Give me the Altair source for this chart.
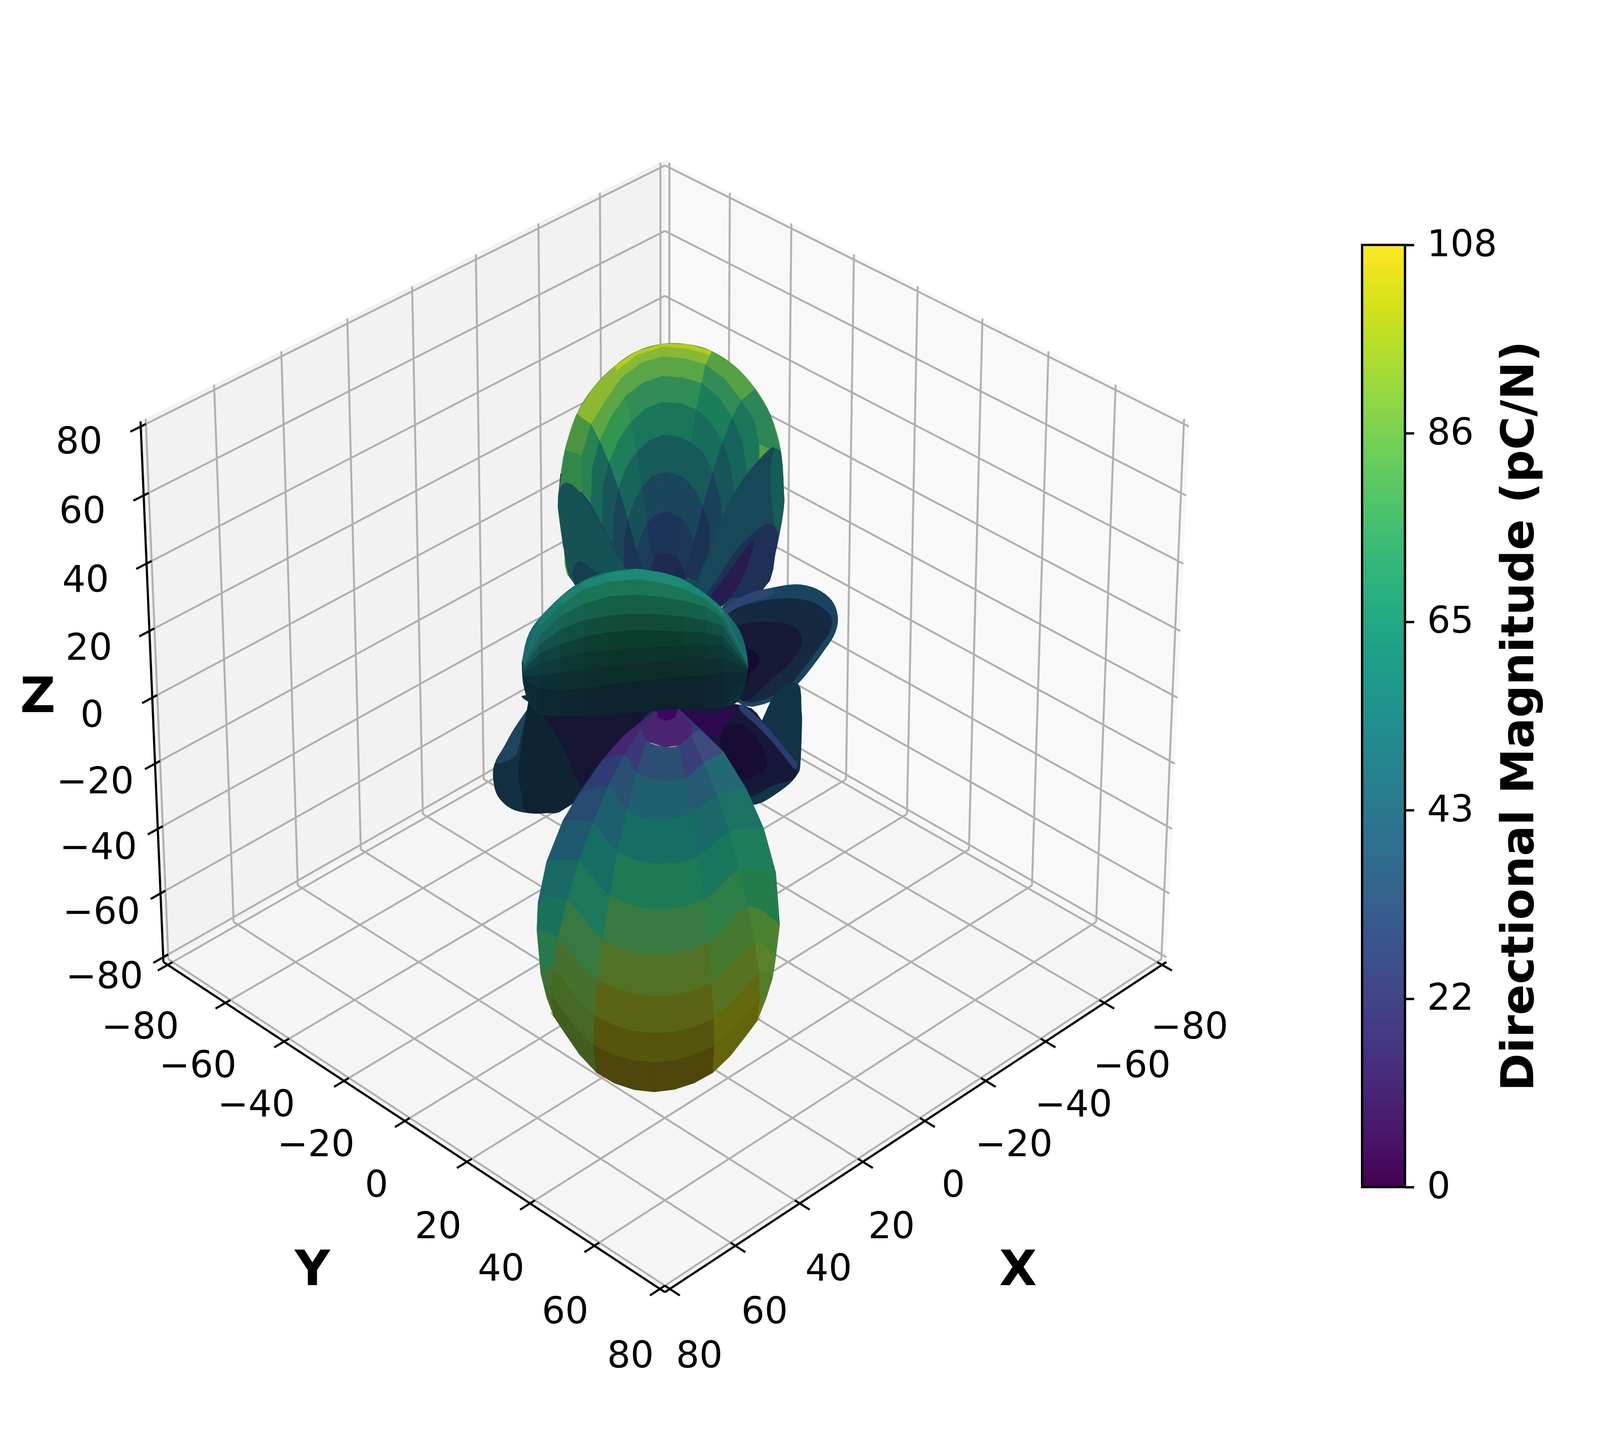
import numpy as np
import pandas as pd
import altair as alt

alt.data_transformers.disable_max_rows()

# The browser viewport is 4096 wide and 3707 tall: the chart fills it, and every
# position read from the 4701x3707 reference goes through the x and y scales.
W, H = 4080, 3691
KX = 4701 / 4096
FONT = "DejaVu Sans"

# ---------- axis values ----------
tick_values = [-80, -60, -40, -20, 0, 20, 40, 60, 80]
tick_text = ["\u221280", "\u221260", "\u221240", "\u221220", "0", "20", "40", "60", "80"]
cbar_ticks = [0, 21.6, 43.2, 64.8, 86.4, 108]
L, LZ = 81.5, 81.5

# ---------- 3-D camera (elev 30, azim 45, box aspect 4:4:3) ----------
el, az = np.radians(30), np.radians(45)
asp = np.array([4.0, 4.0, 3.0])
asp = asp * 1.8294640721620434 * 25 / 24 / np.linalg.norm(asp)
R0 = asp / 2
w_ = np.array([np.cos(el) * np.cos(az), np.cos(el) * np.sin(az), np.sin(el)])
eye = R0 + 10 * w_
u_ = np.cross([0, 0, 1.0], w_)
u_ /= np.linalg.norm(u_)
v_ = np.cross(w_, u_)


def cam(x, y, z):
    p = np.array([(x + L) / (2 * L), (y + L) / (2 * L), (z + LZ) / (2 * LZ)]) * asp - eye
    d = -w_.dot(p)
    return u_.dot(p) / d, v_.dot(p) / d


fit_pts = [((L, L, -LZ), (1954, 3312)), ((L, -L, -LZ), (480, 2460)), ((-L, L, -LZ), (3427, 2460)),
           ((L, -L, LZ), (413, 1079)), ((-L, L, LZ), (3494, 1079)), ((-L, -L, LZ), (1953, 412))]
A, b = [], []
for p3, p2 in fit_pts:
    cx, cy = cam(*p3)
    A += [[cx, 1, 0], [-cy, 0, 1]]
    b += [p2[0], p2[1]]
s_, ox, oy = np.linalg.lstsq(np.array(A), np.array(b, float), rcond=None)[0]


def pr(x, y, z):
    cx, cy = cam(x, y, z)
    return s_ * cx + ox, oy - s_ * cy


# ---------- helpers for polygons ----------
polys = []


def hexc(rgb):
    return "#%02x%02x%02x" % tuple(int(round(min(255, max(0, v)))) for v in rgb)


def Z1(p):
    return (1350 + p[0] / 1.3067, 800 + p[1] / 1.3067)


def Z2(p):
    return (1450 + p[0] / 1.568, 1750 + p[1] / 1.4255)


def add(pts, rgb, frame=None):
    polys.append(([frame(p) if frame else p for p in pts], hexc(rgb)))


def catmull(a, b_, c, d, n):
    out = []
    for k in range(n):
        t = k / n
        out.append(0.5 * (2 * b_ + (c - a) * t + (2 * a - 5 * b_ + 4 * c - d) * t ** 2 + (3 * b_ - a - 3 * c + d) * t ** 3))
    return out


def smooth(ring, n=3):
    r = np.array(ring, float)
    r2 = np.vstack([2 * r[0] - r[1], r, 2 * r[-1] - r[-2]])
    out = []
    for i in range(1, len(r2) - 2):
        out += catmull(r2[i - 1], r2[i], r2[i + 1], r2[i + 2], n)
    out.append(r[-1])
    return [tuple(p) for p in out]


def adds(pts, rgb, frame=None, n=4):
    r = np.array(pts, float)
    m = len(r)
    out = []
    for i in range(m):
        out += catmull(r[(i - 1) % m], r[i], r[(i + 1) % m], r[(i + 2) % m], n)
    add([tuple(p) for p in out], rgb, frame)


# ---------- top lobe ----------
adds([(450, 340), (515, 250), (595, 180), (680, 130), (780, 105), (880, 107), (970, 130), (1060, 182), (1135, 255), (1195, 345), (1235, 470), (1245, 630), (1235, 700), (1215, 790), (1165, 925), (930, 1000), (700, 1000), (440, 905), (400, 780), (380, 650), (385, 570), (405, 460)], (85, 160, 65), Z1)
add([(388, 540), (560, 540), (1000, 540), (1240, 540), (1247, 630), (1237, 700), (1217, 790), (1167, 925), (930, 1000), (700, 1000), (440, 907), (398, 780), (378, 650)], (25, 70, 88), Z1)
top_arches = [
    [(450, 340), (515, 250), (595, 180), (680, 130), (780, 105), (880, 107), (970, 130), (1060, 182), (1135, 255)],
    [(505, 375), (565, 290), (620, 220), (700, 168), (780, 148), (870, 155), (945, 175), (1020, 225), (1082, 295)],
    [(538, 430), (585, 345), (638, 280), (705, 235), (780, 213), (855, 218), (930, 237), (995, 285), (1048, 352)],
    [(574, 503), (612, 425), (660, 365), (715, 322), (782, 300), (850, 305), (910, 325), (965, 368), (1010, 435)],
    [(611, 592), (640, 520), (682, 465), (730, 428), (783, 410), (835, 415), (890, 435), (935, 470), (972, 535)],
    [(647, 695), (672, 630), (703, 583), (740, 550), (785, 535), (830, 540), (870, 560), (905, 595), (935, 650)],
    [(680, 800), (698, 745), (722, 705), (750, 680), (787, 668), (815, 672), (852, 690), (880, 725), (900, 770)],
    [(715, 900), (725, 860), (745, 830), (760, 810), (790, 805), (810, 808), (835, 822), (855, 850), (868, 880)],
    [(740, 980), (750, 980), (760, 980), (775, 980), (790, 980), (810, 980), (835, 980), (855, 980), (868, 980)],
]
top_colors = [
    [(140, 185, 48), (135, 185, 55), (85, 162, 68)],
    [(92, 166, 70), (90, 165, 70), (50, 140, 85)],
    [(50, 150, 80), (50, 140, 85), (28, 125, 90)],
    [(30, 125, 90), (25, 118, 90), (24, 108, 90)],
    [(22, 100, 90), (22, 90, 90), (23, 90, 90)],
    [(24, 80, 90), (25, 70, 90), (25, 70, 90)],
    [(26, 62, 90), (28, 52, 88), (28, 55, 88)],
    [(28, 50, 85), (32, 42, 78), (30, 40, 80)],
]
top_groups = [0, 0, 1, 1, 1, 1, 2, 2]
for i in range(8):
    for j in range(8):
        a, b_ = top_arches[i], top_arches[i + 1]
        add([a[j], a[j + 1], b_[j + 1], b_[j]], top_colors[i][top_groups[j]], Z1)

add([(595, 180), (680, 130), (780, 105), (880, 107), (968, 130), (960, 142), (880, 120), (780, 114), (680, 142), (606, 192)], (182, 204, 28), Z1)

# outer cells, right
add([(1135, 255), (1082, 295), (1130, 360), (1150, 440), (1235, 470), (1195, 345)], (45, 135, 85), Z1)
add([(1082, 295), (1130, 360), (1150, 440), (1150, 520), (1105, 545), (1085, 430), (1048, 352)], (28, 118, 90), Z1)
add([(1048, 352), (1085, 430), (1105, 545), (1057, 610), (1040, 515), (1010, 435)], (23, 100, 90), Z1)
add([(1010, 435), (1040, 515), (1057, 610), (1008, 700), (1000, 620), (972, 535)], (23, 85, 90), Z1)
add([(972, 535), (1000, 620), (1008, 700), (958, 800), (960, 720), (935, 650)], (25, 65, 90), Z1)
add([(935, 650), (960, 720), (958, 800), (915, 900), (868, 880), (900, 770)], (28, 50, 85), Z1)
# outer cells, left
add([(450, 340), (505, 375), (470, 480), (405, 460)], (75, 150, 65), Z1)
add([(505, 375), (538, 430), (510, 520), (505, 640), (470, 600), (470, 480)], (40, 130, 82), Z1)
add([(405, 460), (470, 480), (470, 600), (385, 590)], (50, 135, 75), Z1)
add([(538, 430), (510, 520), (505, 640), (548, 710), (550, 590), (574, 503)], (25, 105, 90), Z1)
add([(574, 503), (550, 590), (548, 710), (590, 775), (592, 670), (611, 592)], (24, 85, 90), Z1)
add([(611, 592), (592, 670), (590, 775), (632, 850), (632, 770), (647, 695)], (25, 68, 90), Z1)
add([(647, 695), (632, 770), (632, 850), (680, 880), (715, 900), (680, 800)], (28, 52, 85), Z1)
# blades seen through the lobe
adds([(380, 650), (385, 590), (410, 570), (450, 590), (505, 660), (560, 740), (600, 810), (640, 870), (600, 920), (440, 905), (400, 780)], (22, 82, 85), Z1)
adds([(1190, 458), (1215, 458), (1235, 480), (1245, 630), (1235, 700), (1215, 790), (1165, 925), (930, 960), (915, 900), (960, 800), (1000, 700), (1040, 630), (1100, 545)], (22, 72, 88), Z1)
adds([(1205, 465), (1235, 480), (1245, 630), (1235, 700), (1215, 730), (1195, 580)], (22, 92, 88), Z1)
adds([(1170, 712), (1200, 710), (1220, 735), (1215, 790), (1165, 925), (950, 960), (985, 900), (1060, 800), (1120, 745)], (30, 48, 85), Z1)
adds([(1130, 760), (1060, 840), (990, 920), (960, 960), (1010, 980), (1090, 880)], (38, 28, 80), Z1)
adds([(440, 905), (437, 855), (465, 832), (510, 860), (545, 885), (460, 910)], (22, 62, 80), Z1)

# ---------- side lobes ----------
adds([(1000, 1000), (1100, 945), (1180, 925), (1290, 910), (1370, 925), (1430, 965), (1452, 1020), (1440, 1075), (1400, 1130), (1340, 1200), (1300, 1240), (1240, 1285), (1090, 1315), (1000, 1200)], (25, 68, 95), Z1)
adds([(1010, 995), (1100, 945), (1190, 925), (1200, 945), (1100, 975), (1035, 1010)], (45, 68, 115), Z1)
adds([(1030, 1010), (1200, 960), (1340, 965), (1420, 1010), (1425, 1060), (1380, 1120), (1320, 1190), (1240, 1265), (1090, 1300), (1040, 1150)], (21, 42, 65), Z1)
adds([(1060, 1055), (1180, 1035), (1280, 1050), (1315, 1100), (1280, 1160), (1200, 1225), (1085, 1300), (1060, 1150)], (22, 26, 55), Z1)
adds([(1085, 1130), (1130, 1135), (1152, 1165), (1120, 1205), (1070, 1280)], (25, 10, 52), Z1)

adds([(1280, 60), (1400, 0), (1418, 100), (1420, 150), (1413, 290), (1400, 330), (1340, 380), (1210, 440), (1130, 400)], (18, 52, 70), Z2)
adds([(860, 90), (1150, 80), (1250, 150), (1340, 235), (1395, 290), (1385, 345), (1290, 370), (1130, 420), (1000, 300)], (22, 24, 55), Z2)
adds([(1150, 80), (1250, 150), (1340, 235), (1395, 290), (1385, 310), (1320, 245), (1230, 165), (1140, 100)], (40, 62, 115), Z2)
adds([(1050, 180), (1150, 150), (1230, 220), (1260, 290), (1210, 335), (1080, 335)], (25, 12, 50), Z2)
add([(850, 90), (1000, 110), (1120, 90), (1030, 200), (970, 180)], (45, 10, 80), Z2)

adds([(165, 40), (170, 80), (100, 160), (50, 230), (5, 295), (0, 350), (20, 410), (80, 455), (160, 472), (240, 472), (330, 455), (500, 300), (760, 95), (700, 40)], (18, 48, 65), Z2)
adds([(170, 80), (100, 160), (50, 230), (10, 290), (90, 270), (115, 230), (150, 110)], (30, 68, 95), Z2)
adds([(165, 50), (130, 230), (115, 320), (130, 400), (160, 470), (330, 455), (420, 380), (370, 330), (350, 280), (300, 200), (180, 50)], (14, 36, 50), Z2)
add([(180, 50), (300, 200), (350, 280), (370, 330), (420, 390), (500, 300), (720, 100), (700, 50)], (22, 22, 52), Z2)

# ---------- bottom lobe ----------
bot_rings = [
    [(600, 190), (680, 165), (705, 210), (790, 232), (860, 225), (910, 190), (950, 165)],
    [(500, 280), (603, 260), (658, 325), (770, 355), (885, 345), (970, 290), (1060, 250)],
    [(395, 400), (527, 375), (615, 465), (760, 498), (915, 470), (1030, 405), (1165, 385)],
    [(320, 500), (458, 510), (570, 615), (755, 658), (945, 632), (1085, 540), (1245, 530)],
    [(245, 650), (393, 650), (535, 775), (748, 825), (970, 790), (1133, 678), (1300, 690)],
    [(205, 800), (340, 790), (503, 935), (742, 990), (990, 945), (1172, 815), (1318, 880)],
    [(200, 900), (298, 930), (480, 1083), (740, 1143), (1005, 1093), (1205, 945), (1298, 1010)],
    [(218, 1060), (275, 1040), (467, 1213), (738, 1277), (1015, 1222), (1225, 1055), (1285, 1075)],
    [(245, 1145), (267, 1140), (460, 1320), (737, 1383), (1018, 1323), (1228, 1150), (1255, 1150)],
    [(278, 1215), (278, 1215), (475, 1420), (740, 1490), (1010, 1420), (1215, 1230), (1215, 1230)],
]
bot_colors = [
    [(70, 38, 115), (60, 55, 120), (45, 78, 115), (45, 78, 115), (55, 62, 120), (62, 75, 125)],
    [(45, 60, 115), (40, 80, 115), (32, 95, 110), (32, 95, 110), (38, 90, 115), (35, 105, 115)],
    [(38, 75, 112), (30, 95, 110), (20, 110, 100), (20, 110, 100), (25, 105, 105), (28, 115, 100)],
    [(30, 90, 110), (20, 110, 100), (28, 122, 85), (28, 122, 85), (24, 118, 92), (30, 125, 90)],
    [(25, 105, 100), (28, 120, 88), (55, 122, 65), (55, 122, 65), (45, 125, 70), (35, 125, 75)],
    [(25, 115, 90), (55, 120, 65), (80, 112, 38), (80, 112, 38), (70, 120, 45), (75, 130, 50)],
    [(40, 120, 75), (70, 112, 45), (90, 100, 20), (90, 100, 20), (85, 115, 35), (90, 130, 45)],
    [(65, 110, 50), (70, 105, 35), (85, 85, 13), (85, 85, 13), (100, 105, 12), (85, 125, 40)],
    [(75, 105, 35), (65, 95, 28), (78, 70, 10), (78, 70, 10), (100, 100, 12), (95, 125, 35)],
]
add([(750, 95), (600, 190), (680, 165), (750, 110)], (60, 40, 115), Z2)
add([(848, 90), (950, 165), (910, 190), (848, 110)], (50, 60, 120), Z2)
add([(680, 165), (705, 210), (790, 232), (860, 225), (910, 190), (915, 150), (848, 95), (750, 95)], (75, 35, 110), Z2)
add([(750, 95), (760, 125), (795, 135), (835, 125), (848, 95)], (65, 5, 100), Z2)
N = 3
sm = [smooth(r, N) for r in bot_rings]
for i in range(9):
    for j in range(6):
        a = sm[i][j * N:(j + 1) * N + 1]
        b_ = sm[i + 1][j * N:(j + 1) * N + 1]
        add(a + b_[::-1], bot_colors[i][j], Z2)

# ---------- front lobe ----------
add(smooth([(240, 1170), (260, 1090), (300, 1030), (390, 950), (460, 905), (540, 875), (665, 858), (760, 868), (850, 890), (950, 945), (1020, 1000), (1075, 1065), (1100, 1130), (1108, 1190)]), (24, 105, 105), Z1)
add(smooth([(240, 1170), (245, 1240), (270, 1310), (320, 1345), (450, 1350), (600, 1345), (800, 1328), (1000, 1320), (1070, 1300), (1095, 1250), (1108, 1190)]), (14, 46, 54), Z1)
ball_x = [245, 310, 390, 480, 575, 680, 775, 860, 945, 1012, 1105]
ball_rows = [
    [1170, 1020, 950, 897, 870, 858, 870, 893, 942, 995, 1170],
    [1175, 1050, 980, 925, 900, 893, 905, 925, 960, 1010, 1175],
    [1180, 1080, 1015, 975, 950, 945, 952, 965, 985, 1025, 1178],
    [1185, 1110, 1060, 1030, 1015, 1008, 1012, 1018, 1030, 1050, 1180],
    [1195, 1140, 1110, 1085, 1070, 1062, 1065, 1068, 1072, 1085, 1185],
    [1205, 1175, 1155, 1140, 1130, 1122, 1120, 1115, 1115, 1115, 1190],
    [1215, 1215, 1205, 1195, 1185, 1178, 1170, 1165, 1160, 1155, 1195],
    [1225, 1260, 1265, 1258, 1245, 1235, 1225, 1220, 1215, 1205, 1205],
    [1240, 1335, 1350, 1350, 1347, 1338, 1330, 1325, 1322, 1315, 1215],
]
ball_center = [(28, 138, 118), (28, 118, 85), (20, 95, 70), (16, 75, 55), (13, 60, 45), (12, 52, 42), (12, 45, 42), (13, 35, 45)]
ball_edge = [(25, 115, 110), (25, 110, 100), (25, 100, 95), (20, 85, 85), (15, 70, 70), (15, 60, 65), (14, 50, 58), (15, 42, 52)]
ball_weight = [1, 0.7, 0.4, 0.15, 0, 0, 0, 0.15, 0.4, 0.8]
for i in range(8):
    for j in range(10):
        w = ball_weight[j]
        c = tuple((1 - w) * ball_center[i][k] + w * ball_edge[i][k] for k in range(3))
        add([(ball_x[j], ball_rows[i][j]), (ball_x[j + 1], ball_rows[i][j + 1]),
             (ball_x[j + 1], ball_rows[i + 1][j + 1]), (ball_x[j], ball_rows[i + 1][j])], c, Z1)

rows = []
for pid, (pts, c) in enumerate(polys):
    for i, (px, py) in enumerate(pts):
        rows.append({"pid": pid, "i": i, "x": px, "y": py, "c": c})
lobes = pd.DataFrame(rows)

# ---------- panes, grid, axes ----------
panes = []
def pane(name, corners, c):
    for i, p in enumerate(corners):
        px, py = pr(*p)
        panes.append({"pid": name, "i": i, "x": px, "y": py, "c": c})

pane(0, [(L, -L, -LZ), (-L, -L, -LZ), (-L, -L, LZ), (L, -L, LZ)], "#f2f2f2")
pane(1, [(-L, L, -LZ), (-L, -L, -LZ), (-L, -L, LZ), (-L, L, LZ)], "#f8f8f8")
pane(2, [(L, L, -LZ), (L, -L, -LZ), (-L, -L, -LZ), (-L, L, -LZ)], "#f5f5f5")
panes = pd.DataFrame(panes)

def seg(a, b_):
    x0, y0 = pr(*a)
    x1, y1 = pr(*b_)
    return {"x": x0, "y": y0, "x2": x1, "y2": y1}

grid = []
for t in tick_values:
    grid += [seg((t, -L, -LZ), (t, -L, LZ)), seg((L, -L, t), (-L, -L, t)),
             seg((-L, t, -LZ), (-L, t, LZ)), seg((-L, L, t), (-L, -L, t)),
             seg((t, L, -LZ), (t, -L, -LZ)), seg((L, t, -LZ), (-L, t, -LZ))]
grid = pd.DataFrame(grid)

axes = pd.DataFrame([seg((-L, L, -LZ), (L, L, -LZ)), seg((L, L, -LZ), (L, -L, -LZ)), seg((L, -L, -LZ), (L, -L, LZ))])
ticks = []
labels = []
for t, s in zip(tick_values, tick_text):
    ticks += [seg((t, L - 1.5, -LZ), (t, L + 3, -LZ)), seg((L - 1.5, t, -LZ), (L + 3, t, -LZ)), seg((L - 1.5, -L, t), (L + 3, -L, t))]
    for p in [(t, L + 8.9, -LZ - 14.5), (L + 8.9, t, -LZ - 14.5), (L + 17.5, -L, t + 4.1)]:
        lx, ly = pr(*p)
        labels.append({"x": lx, "y": ly, "t": s})
ticks = pd.DataFrame(ticks)
labels = pd.DataFrame(labels)
axis_titles = pd.DataFrame({"x": [2991, 918, 111], "y": [3252, 3252, 1785], "t": ["X", "Y", "Z"]})
cb_title = pd.DataFrame({"x": [4464], "y": [1833], "t": ["Directional Magnitude (pC/N)"]})

# ---------- scales ----------
xs = alt.Scale(domain=[8 * KX, (8 + W) * KX], nice=False, zero=False)
ys = alt.Scale(domain=[8 + H, 8], nice=False, zero=False)
X = alt.X("x:Q", scale=xs, axis=None)
Y = alt.Y("y:Q", scale=ys, axis=None)
X2 = alt.X2("x2:Q")
Y2 = alt.Y2("y2:Q")


def poly_layer(df):
    return alt.Chart(df).mark_line(filled=True, strokeWidth=1.2, interpolate="linear-closed", strokeJoin="round").encode(
        x=X, y=Y, detail="pid:N", order="i:Q",
        fill=alt.Fill("c:N", scale=None), stroke=alt.Stroke("c:N", scale=None))


def rule_layer(df, color, width):
    return alt.Chart(df).mark_rule(color=color, strokeWidth=width).encode(x=X, y=Y, x2=X2, y2=Y2)


# ---------- colour bar ----------
cb_vals = np.linspace(0, 108, 257)
cbar = pd.DataFrame({"v0": cb_vals[:-1], "v1": np.minimum(cb_vals[1:] + 0.4, 108), "v": (cb_vals[:-1] + cb_vals[1:]) / 2,
                     "a": [4002] * 256, "b": [4128] * 256})
per = (3039 - 627) / 108
cb_dom = [-(3699 - 3039) / per, 108 + (627 - 8) / per]
cb_y = alt.Scale(domain=cb_dom, nice=False, zero=False)
cb_axis = alt.Axis(orient="right", values=cbar_ticks, format=".0f", domain=False, grid=False, tickSize=23,
                   tickWidth=6, tickColor="black", labelFont=FONT, labelFontSize=94, labelColor="black",
                   labelPadding=33, labelFlush=False, labelOverlap=False, labelLimit=400,
                   offset=4128 / KX - 8 - W, title=None)
cb_layer = alt.Chart(cbar).mark_rect().encode(
    x=alt.X("a:Q", scale=xs, axis=None), x2="b:Q",
    y=alt.Y("v0:Q", scale=cb_y, axis=cb_axis), y2="v1:Q",
    color=alt.Color("v:Q", scale=alt.Scale(scheme="viridis", domain=[0, 108]), legend=None))
cb_frame = alt.Chart(pd.DataFrame({"a": [4002], "b": [4128], "v0": [0], "v1": [108]})).mark_rect(
    filled=False, stroke="black", strokeWidth=6).encode(
    x=alt.X("a:Q", scale=xs, axis=None), x2="b:Q",
    y=alt.Y("v0:Q", scale=cb_y, axis=None), y2="v1:Q")

tick_labels = alt.Chart(labels).mark_text(font=FONT, fontSize=94, color="black", align="center", baseline="middle").encode(x=X, y=Y, text="t:N")
titles = alt.Chart(axis_titles).mark_text(font=FONT, fontSize=125, fontWeight="bold", color="black", align="center", baseline="middle").encode(x=X, y=Y, text="t:N")
cb_text = alt.Chart(cb_title).mark_text(font=FONT, fontSize=116.7, fontWeight="bold", color="black", align="center", baseline="middle", angle=270).encode(x=X, y=Y, text="t:N")

chart = alt.layer(
    poly_layer(panes),
    rule_layer(grid, "#b0b0b0", 5),
    rule_layer(axes, "black", 5.5),
    rule_layer(ticks, "black", 5.5),
    tick_labels,
    titles,
    cb_text,
    poly_layer(lobes),
    cb_layer,
    cb_frame,
).resolve_scale(y="independent", color="independent", fill="independent", stroke="independent").properties(
    width=W, height=H, padding=0, autosize=alt.AutoSizeParams(type="none"), background="white"
).configure_view(stroke=None)

chart.save("out.html", embed_options={"renderer": "svg", "actions": False})
